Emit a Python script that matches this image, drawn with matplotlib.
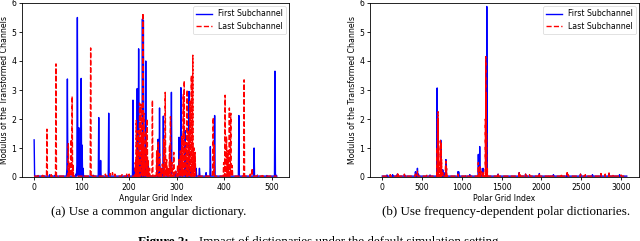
import numpy as np
import matplotlib
matplotlib.use("Agg")
import matplotlib.pyplot as plt

# ---------------- data ----------------
n_angular = 512
n_polar = 3072
floor_level = 0.03

# Angular dictionary (a): spikes (index, modulus)
ang_first_idx = [0, 8, 20, 33, 44, 69, 70, 72, 88, 90, 91, 92, 94, 96, 97, 99, 101, 103,
                 125, 136, 138, 140, 157, 160, 195, 208, 212, 215, 217, 220, 224, 226, 228,
                 230, 232, 235, 240, 259, 261, 264, 268, 272, 280, 289, 298, 305, 309, 312,
                 318, 322, 326, 330, 341, 348, 362, 371, 380, 431, 463, 470, 490, 507, 510]
ang_first_val = [1.28, 0.05, 0.04, 0.08, 0.06, 0.3, 3.38, 0.2, 0.1, 0.4, 5.5, 0.6, 1.7, 1.15, 0.9,
                 3.4, 1.1, 0.3, 0.06, 2.05, 0.2, 0.57, 2.2, 0.1, 0.06, 2.65, 0.3, 0.6, 3.05, 4.42, 0.8,
                 1.2, 5.45, 5.4, 0.7, 4.0, 0.4, 0.7, 1.3, 2.38, 0.3, 2.1, 0.3, 2.92, 0.2, 1.37, 3.08, 0.5,
                 1.6, 0.6, 2.95, 0.2, 0.3, 0.3, 0.15, 1.05, 2.12, 2.12, 1.0, 0.06, 0.05, 3.65, 0.06]

ang_last_idx = [10, 18, 27, 36, 46, 50, 72, 75, 78, 80, 82, 105, 119, 122, 150, 160, 165, 170,
                185, 195, 200, 213, 215, 217, 219, 222, 225, 227, 229, 231, 233, 236, 238, 240,
                243, 249, 255, 258, 261, 264, 267, 270, 273, 276, 279, 282, 285, 287, 290, 294,
                298, 302, 305, 308, 311, 314, 316, 319, 322, 325, 328, 331, 334, 337, 339, 376,
                377, 379, 399, 402, 405, 408, 411, 414, 417, 442, 455, 459, 470, 480]
ang_last_val = [0.05, 0.06, 1.65, 0.08, 3.9, 0.06, 1.15, 0.5, 1.3, 2.78, 0.4, 0.06, 4.45, 0.08, 0.1,
                0.12, 0.15, 0.1, 0.08, 0.1, 0.1, 0.5, 1.95, 0.9, 1.6, 2.55, 2.5, 1.4, 5.65, 2.2, 1.0,
                1.6, 2.0, 0.6, 0.3, 2.65, 0.1, 0.9, 1.2, 0.8, 0.3, 0.45, 1.3, 2.92, 0.6, 0.3, 1.1, 2.08,
                0.5, 0.85, 0.2, 0.4, 0.6, 0.9, 1.4, 2.85, 3.32, 1.2, 3.0, 1.6, 2.6, 3.5, 4.2, 1.0, 0.85,
                0.3, 2.05, 1.1, 0.5, 2.82, 1.4, 0.9, 2.38, 2.2, 0.4, 3.35, 0.1, 0.3, 0.06, 0.05]

# Polar dictionaries (b): spikes (index, modulus)
pol_first_idx = [60, 130, 190, 280, 417, 430, 442, 455, 600, 688, 690, 693, 700, 735, 740, 760,
                 775, 800, 805, 950, 960, 1100, 1207, 1215, 1224, 1235, 1266, 1300, 1313, 1318,
                 1455, 1720, 1800, 1973, 2150, 2322, 2490, 2640, 2747, 2848, 2980]
pol_first_val = [0.07, 0.08, 0.1, 0.08, 0.18, 0.12, 0.3, 0.1, 0.07, 2.0, 3.07, 1.5, 0.4, 1.27, 1.0,
                 0.25, 0.15, 0.6, 0.4, 0.18, 0.18, 0.08, 0.78, 0.5, 1.05, 0.3, 0.3, 4.0, 5.88, 2.5,
                 0.1, 0.15, 0.1, 0.12, 0.08, 0.12, 0.1, 0.08, 0.1, 0.12, 0.08]

pol_last_idx = [100, 193, 200, 278, 300, 417, 442, 560, 690, 695, 702, 706, 712, 730, 740, 745,
                760, 795, 800, 808, 950, 1050, 1207, 1212, 1224, 1240, 1266, 1295, 1300, 1305,
                1310, 1320, 1455, 1720, 1730, 1800, 1850, 1973, 2100, 2250, 2322, 2330, 2490,
                2550, 2747, 2800, 2848, 2900, 3000]
pol_last_val = [0.08, 0.15, 0.12, 0.1, 0.06, 0.1, 0.2, 0.06, 1.0, 2.0, 2.25, 1.0, 0.5, 1.25, 1.2,
                0.6, 0.15, 0.4, 0.55, 0.3, 0.1, 0.06, 0.5, 0.3, 0.4, 0.2, 0.2, 2.0, 4.15, 2.9, 1.5,
                0.3, 0.12, 0.18, 0.12, 0.1, 0.08, 0.12, 0.08, 0.1, 0.15, 0.1, 0.1, 0.08, 0.12, 0.1,
                0.14, 0.08, 0.07]

captions = ["(a) Use a common angular dictionary.",
            "(b) Use frequency-dependent polar dictionaries."]
xlabels = ["Angular Grid Index", "Polar Grid Index"]
ylabel = "Modulus of the Transformed Channels"
series_names = ["First Subchannel", "Last Subchannel"]
fig_caption_head = "Figure 2:"
fig_caption_body = "Impact of dictionaries under the default simulation setting."


def build(n, idx, val):
    y = np.full(n, floor_level)
    y[np.array(idx)] = np.array(val)
    return y


ang_first = build(n_angular, ang_first_idx, ang_first_val)
ang_last = build(n_angular, ang_last_idx, ang_last_val)
pol_first = build(n_polar, pol_first_idx, pol_first_val)
pol_last = build(n_polar, pol_last_idx, pol_last_val)

# ---------------- figure ----------------
W, H = 640, 241
fig = plt.figure(figsize=(W / 100, H / 100), dpi=100)
ax1 = fig.add_axes([22 / W, 1 - 177 / H, 267 / W, 174 / H])
ax2 = fig.add_axes([370 / W, 1 - 177 / H, 269 / W, 174 / H])

fs = 5.6
for ax, (f, l), xl in [(ax1, (ang_first, ang_last), xlabels[0]),
                       (ax2, (pol_first, pol_last), xlabels[1])]:
    x = np.arange(len(f))
    ax.plot(x, f, color="blue", lw=1.0, label=series_names[0])
    ax.plot(x, l, color="red", lw=1.0, ls="--", label=series_names[1])
    ax.set_ylim(0, 6)
    ax.set_yticks(range(7))
    ax.set_xlabel(xl, fontsize=fs, labelpad=1.5)
    ax.set_ylabel(ylabel, fontsize=fs, labelpad=2)
    ax.tick_params(labelsize=fs, length=2.5, width=0.6, pad=1.5)
    for s in ax.spines.values():
        s.set_linewidth(0.6)
    leg = ax.legend(loc="upper right", fontsize=fs, handlelength=2.0, borderaxespad=0.4,
                    framealpha=0.8, edgecolor="0.8")
    leg.get_frame().set_linewidth(0.5)

ax1.set_xticks([0, 100, 200, 300, 400, 500])
ax2.set_xticks([0, 500, 1000, 1500, 2000, 2500, 3000])

serif = ["Liberation Serif", "DejaVu Serif"]
cap_fs = 9.4
fig.text(149 / W, 1 - 212.5 / H, captions[0], ha="center", va="center",
         family=serif, fontsize=cap_fs)
fig.text(506 / W, 1 - 212.5 / H, captions[1], ha="center", va="center",
         family=serif, fontsize=cap_fs)

# figure caption (bold head + normal body), centred as a whole
renderer = fig.canvas.get_renderer()
y_cap = 1 - 235.5 / H
t_head = fig.text(0, y_cap, fig_caption_head, ha="left", va="top",
                  family=serif, fontsize=cap_fs, fontweight="bold")
t_body = fig.text(0, y_cap, fig_caption_body, ha="left", va="top",
                  family=serif, fontsize=cap_fs)
w_head = t_head.get_window_extent(renderer).width
w_body = t_body.get_window_extent(renderer).width
gap = 10
total = w_head + gap + w_body
x0 = 320 - total / 2
t_head.set_x(x0 / W)
t_body.set_x((x0 + w_head + gap) / W)

fig.savefig("out.png", dpi=100)
